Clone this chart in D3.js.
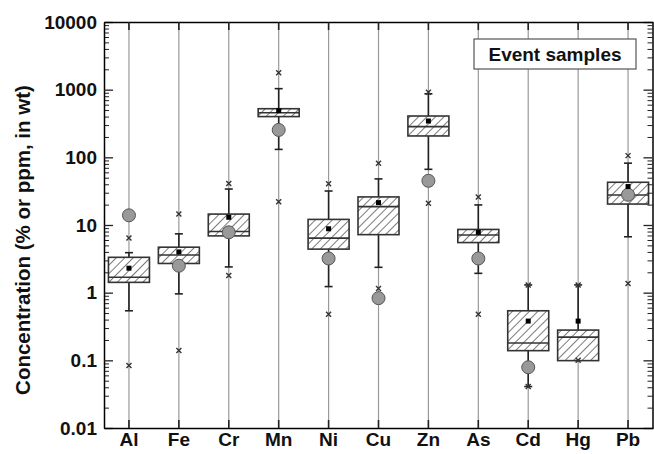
<!DOCTYPE html>
<html>
<head>
<meta charset="utf-8">
<script src="https://cdn.jsdelivr.net/npm/d3@7"></script>
<style>
  body { margin: 0; background: #fff; }
  svg { display: block; font-family: "Liberation Sans", Arial, sans-serif; font-weight: bold; }
</style>
</head>
<body>
<svg width="654" height="454"></svg>
<script>
const width = 654;
const height = 454;

const margin = { top: 22, right: 1, bottom: 26, left: 104 };

// data
const elements = ["Al", "Fe", "Cr", "Mn", "Ni", "Cu", "Zn", "As", "Cd", "Hg", "Pb"];
const q1      = [1.42, 2.7, 6.9, 400, 4.4, 7.2, 207, 5.5, 0.139, 0.099, 20.4];
const median  = [1.69, 3.6, 8.0, 457, 6.4, 18.7, 284, 7.1, 0.18, 0.22, 27.8];
const q3      = [3.33, 4.7, 14.5, 523, 12.1, 26, 408, 8.6, 0.54, 0.28, 42.8];
const mean    = [2.3, 4.0, 13, 490, 8.8, 21.4, 344, 7.8, 0.38, 0.38, 37];
const whiskLo = [0.54, 0.96, 2.4, 131, 1.23, 2.37, 66.5, 1.93, 0.041, 0.1, 6.7];
const whiskHi = [3.9, 7.4, 34, 1035, 31.8, 48, 870, 19.8, 1.3, 1.3, 82];
const minVal  = [0.084, 0.14, 1.8, 22, 0.48, 1.15, 21, 0.48, 0.041, 0.1, 1.37];
const maxVal  = [6.4, 14.5, 41, 1780, 40.8, 82, 915, 26, 1.3, 1.3, 106];
const circles = [13.9, 2.5, 7.8, 254, 3.2, 0.83, 45, 3.2, 0.079, null, 28];

const yTicks = [0.01, 0.1, 1, 10, 100, 1000, 10000];
const yTickLabels = ["0.01", "0.1", "1", "10", "100", "1000", "10000"];
const legendLabel = "Event samples";
const yTitle = "Concentration (% or ppm, in wt)";

const rows = elements.map((e, i) => ({
  name: e, q1: q1[i], median: median[i], q3: q3[i], mean: mean[i],
  lo: whiskLo[i], hi: whiskHi[i], min: minVal[i], max: maxVal[i], circle: circles[i]
}));

const svg = d3.select("svg");

const x = d3.scaleBand()
  .domain(elements)
  .range([margin.left, width - margin.right]);

const y = d3.scaleLog()
  .domain([0.01, 10000])
  .range([height - margin.bottom, margin.top]);

const plotTop = margin.top, plotBottom = height - margin.bottom;
const plotLeft = margin.left, plotRight = width - margin.right;
const cx = d => x(d.name) + x.bandwidth() / 2;
const boxW = 41;

// hatch pattern
svg.append("defs").append("pattern")
  .attr("id", "hatch")
  .attr("patternUnits", "userSpaceOnUse")
  .attr("width", 6).attr("height", 6)
  .attr("patternTransform", "rotate(45)")
  .call(p => p.append("rect").attr("width", 6).attr("height", 6).attr("fill", "#fff"))
  .call(p => p.append("line")
    .attr("x1", 0).attr("y1", 0).attr("x2", 0).attr("y2", 6)
    .attr("stroke", "#333").attr("stroke-width", 1.3));

// vertical grid lines
svg.append("g").selectAll("line")
  .data(rows)
  .enter().append("line")
  .attr("x1", cx).attr("x2", cx)
  .attr("y1", plotTop).attr("y2", plotBottom)
  .attr("stroke", "#999")
  .attr("stroke-width", 1.2);

// whiskers
const wg = svg.append("g").attr("stroke", "#222").attr("stroke-width", 1.6);
wg.selectAll(".wu").data(rows).enter().append("line")
  .attr("x1", cx).attr("x2", cx)
  .attr("y1", d => y(d.q3)).attr("y2", d => y(d.hi));
wg.selectAll(".wl").data(rows).enter().append("line")
  .attr("x1", cx).attr("x2", cx)
  .attr("y1", d => y(d.q1)).attr("y2", d => y(d.lo));
wg.selectAll(".cu").data(rows).enter().append("line")
  .attr("x1", d => cx(d) - 4).attr("x2", d => cx(d) + 4)
  .attr("y1", d => y(d.hi)).attr("y2", d => y(d.hi));
wg.selectAll(".cl").data(rows).enter().append("line")
  .attr("x1", d => cx(d) - 4).attr("x2", d => cx(d) + 4)
  .attr("y1", d => y(d.lo)).attr("y2", d => y(d.lo));

// boxes
svg.append("g").selectAll("rect")
  .data(rows)
  .enter().append("rect")
  .attr("x", d => cx(d) - boxW / 2)
  .attr("y", d => y(d.q3))
  .attr("width", boxW)
  .attr("height", d => y(d.q1) - y(d.q3))
  .attr("fill", "url(#hatch)")
  .attr("stroke", "#333")
  .attr("stroke-width", 1.6);

// medians
svg.append("g").selectAll("line")
  .data(rows)
  .enter().append("line")
  .attr("x1", d => cx(d) - boxW / 2).attr("x2", d => cx(d) + boxW / 2)
  .attr("y1", d => y(d.median)).attr("y2", d => y(d.median))
  .attr("stroke", "#333")
  .attr("stroke-width", 1.6);

// grey circles
svg.append("g").selectAll("circle")
  .data(rows.filter(d => d.circle != null))
  .enter().append("circle")
  .attr("cx", cx)
  .attr("cy", d => y(d.circle))
  .attr("r", 6.5)
  .attr("fill", "#999")
  .attr("stroke", "#555")
  .attr("stroke-width", 1);

// means
svg.append("g").selectAll("rect")
  .data(rows)
  .enter().append("rect")
  .attr("x", d => cx(d) - 2.5)
  .attr("y", d => y(d.mean) - 2.5)
  .attr("width", 5).attr("height", 5)
  .attr("fill", "#000");

// min / max crosses
const crossPath = (px, py) => `M${px - 2.5},${py - 2.5}L${px + 2.5},${py + 2.5}M${px - 2.5},${py + 2.5}L${px + 2.5},${py - 2.5}`;
svg.append("g").selectAll("path")
  .data(rows.flatMap(d => [{ d, v: d.min }, { d, v: d.max }]))
  .enter().append("path")
  .attr("d", e => crossPath(cx(e.d), y(e.v)))
  .attr("stroke", "#333")
  .attr("stroke-width", 1.4)
  .attr("fill", "none");

// minor tick values
const minorTicks = [];
for (let e = -2; e < 4; e++) for (let k = 2; k <= 9; k++) minorTicks.push(k * Math.pow(10, e));

// left axis
svg.append("g")
  .attr("transform", `translate(${plotLeft},0)`)
  .call(d3.axisLeft(y).tickValues(minorTicks).tickSizeInner(-5).tickSizeOuter(0).tickFormat(""))
  .call(g => g.select(".domain").remove())
  .call(g => g.selectAll("line").attr("stroke", "#222"));

svg.append("g")
  .attr("transform", `translate(${plotLeft},0)`)
  .call(d3.axisLeft(y).tickValues(yTicks).tickSizeInner(-9).tickSizeOuter(0).tickPadding(7)
    .tickFormat((d, i) => yTickLabels[i]))
  .call(g => g.select(".domain").attr("stroke-width", 1.5))
  .call(g => g.selectAll("line").attr("stroke", "#222").attr("stroke-width", 1.3))
  .call(g => g.selectAll("text")
    .attr("font-family", "'Liberation Sans', Arial, sans-serif")
    .attr("font-weight", "bold")
    .attr("font-size", "19px")
    .attr("fill", "#111"));

// right axis
svg.append("g")
  .attr("transform", `translate(${plotRight - 0.5},0)`)
  .call(d3.axisRight(y).tickValues(minorTicks).tickSizeInner(-5).tickSizeOuter(0).tickFormat(""))
  .call(g => g.select(".domain").remove())
  .call(g => g.selectAll("line").attr("stroke", "#222"));

svg.append("g")
  .attr("transform", `translate(${plotRight - 0.5},0)`)
  .call(d3.axisRight(y).tickValues(yTicks).tickSizeInner(-9).tickSizeOuter(0).tickFormat(""))
  .call(g => g.select(".domain").attr("stroke-width", 1.5))
  .call(g => g.selectAll("line").attr("stroke", "#222").attr("stroke-width", 1.3));

// bottom axis
svg.append("g")
  .attr("transform", `translate(0,${plotBottom})`)
  .call(d3.axisBottom(x).tickSizeInner(-8).tickSizeOuter(0).tickPadding(5))
  .call(g => g.select(".domain").attr("stroke-width", 1.5))
  .call(g => g.selectAll("line").attr("stroke", "#222").attr("stroke-width", 1.6))
  .call(g => g.selectAll("text")
    .attr("font-family", "'Liberation Sans', Arial, sans-serif")
    .attr("font-weight", "bold")
    .attr("font-size", "19px")
    .attr("fill", "#111"));

// top axis
svg.append("g")
  .attr("transform", `translate(0,${plotTop})`)
  .call(d3.axisTop(x).tickSizeInner(-8).tickSizeOuter(0).tickFormat(""))
  .call(g => g.select(".domain").attr("stroke-width", 1.5))
  .call(g => g.selectAll("line").attr("stroke", "#222").attr("stroke-width", 1.6));

// y title
svg.append("text")
  .attr("transform", "rotate(-90)")
  .attr("x", -240)
  .attr("y", 30)
  .attr("text-anchor", "middle")
  .attr("font-size", "20.5px")
  .attr("fill", "#111")
  .text(yTitle);

// legend
svg.append("rect")
  .attr("x", 474).attr("y", 39)
  .attr("width", 162).attr("height", 30)
  .attr("fill", "#fff")
  .attr("stroke", "#555")
  .attr("stroke-width", 1.2);

svg.append("text")
  .attr("x", 555).attr("y", 61)
  .attr("text-anchor", "middle")
  .attr("font-size", "19px")
  .attr("fill", "#111")
  .text(legendLabel);
</script>
</body>
</html>
